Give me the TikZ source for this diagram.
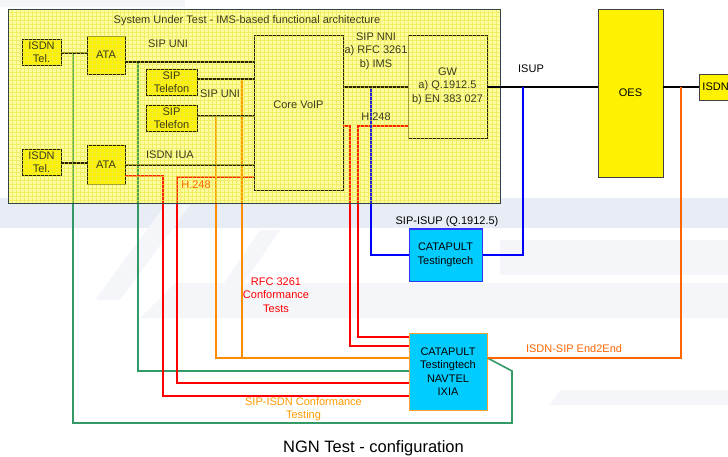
\documentclass[tikz,border=0pt]{standalone}
\usepackage{fontspec}
\setmainfont{Liberation Sans}
\definecolor{sutfill}{RGB}{255,255,190}
\definecolor{gridc}{RGB}{230,230,80}
\definecolor{inktext}{RGB}{60,60,25}
\definecolor{grn}{RGB}{51,153,102}
\definecolor{org}{RGB}{255,102,0}
\definecolor{orglight}{RGB}{255,140,0}
\definecolor{orgtext}{RGB}{255,153,0}
\definecolor{catc}{RGB}{0,204,255}
\definecolor{wmark}{RGB}{232,236,245}
\definecolor{wmark2}{RGB}{244,246,250}
\definecolor{sutedge}{RGB}{50,70,70}
\begin{document}
\begin{tikzpicture}[x=1pt,y=-1pt,
  lbl/.style={font=\fontsize{11}{13.5}\selectfont,align=center,inner sep=0pt},
  inlbl/.style={lbl,text=inktext},
  ybox/.style={draw=black,line width=0.9pt,fill=yellow,inner sep=0pt,align=center,
    font=\fontsize{11}{12}\selectfont},
  cbox/.style={fill=catc,line width=1pt,inner sep=0pt,align=center,
    font=\fontsize{11}{13.5}\selectfont},
  blk/.style={line width=1.6pt,draw=black},
  grnl/.style={line width=1.6pt,draw=grn},
  redl/.style={line width=1.6pt,draw=red},
  orgl/.style={line width=1.6pt,draw=org},
  org2/.style={line width=1.4pt,draw=orglight},
  blul/.style={line width=1.6pt,draw=blue}]
\useasboundingbox (0,0) rectangle (728,457);

% faint watermark shapes in the background
\fill[wmark2] (0,0) rectangle (185,7);
\fill[wmark] (0,198) rectangle (728,228);
\fill[wmark2] (175,283) -- (728,283) -- (728,318) -- (140,318) -- cycle;
\fill[wmark2] (95,300) -- (165,205) -- (190,205) -- (120,300) -- cycle;
\fill[wmark2] (200,318) -- (260,230) -- (280,230) -- (220,318) -- cycle;
\fill[wmark2] (500,240) -- (728,240) -- (728,275) -- (500,275) -- cycle;
\fill[wmark2] (560,390) -- (728,390) -- (728,405) -- (550,405) -- cycle;

% system under test frame
\fill[sutfill] (8,9) rectangle (500,203);

% boxes
\node[ybox,minimum width=39,minimum height=26] (isdn1) at (41.5,52) {};
\node[ybox,minimum width=39,minimum height=26] (isdn2) at (41.5,162) {};
\node[ybox,minimum width=38,minimum height=38] (ata1) at (106,55) {};
\node[ybox,minimum width=38,minimum height=39] (ata2) at (106,164.5) {};
\node[ybox,minimum width=51,minimum height=26] (sip1) at (171.5,82) {};
\node[ybox,minimum width=51,minimum height=26] (sip2) at (171.5,118) {};
\node[ybox,fill=none,minimum width=89,minimum height=155] (core) at (298.5,112.5) {};
\node[ybox,fill=none,minimum width=79,minimum height=103] (gw) at (447.5,86.5) {};
\node[ybox,draw=black!75,minimum width=65,minimum height=168] (oes) at (630.5,93) {OES};
\node[ybox,draw=black!75,anchor=west,minimum height=26,text width=52,align=left,inner xsep=3pt] (isdnr) at (699,87) {ISDN};
\node[cbox,draw=blue!80,minimum width=73,minimum height=52] (cat1) at (445.5,255) {CATAPULT\\Testingtech};
\node[cbox,draw=orglight!80,minimum width=78,minimum height=77] (cat2) at (448,371.5) {CATAPULT\\Testingtech\\NAVTEL\\IXIA};

% taps on the interface lines
\coordinate (g1) at (73,53);
\coordinate (g2) at (138,62);
\coordinate (o1) at (216,116);
\coordinate (o2) at (242,79);
\coordinate (bl) at (371,87);
\coordinate (br) at (523,87);
\coordinate (oe) at (681,87);

% test connections
\draw[grnl] (cat2.east |- 0,358) -- (512,371) -- (512,423) -- (73,423) -- (g1);
\draw[grnl] (g2) -- (138,371) -- (cat2.west |- 0,371);
\draw[redl] (ata2.east |- 0,176) -- (163,176) -- (163,396) -- (cat2.west |- 0,396);
\draw[redl] (core.west |- 0,177) -- (177,177) -- (177,383) -- (cat2.west |- 0,383);
\draw[redl] (core.east |- 0,126) -- (350,126) -- (350,346) -- (cat2.west |- 0,346);
\draw[redl] (gw.west |- 0,126) -- (358,126) -- (358,337) -- (cat2.west |- 0,337);
\draw[org2] (o1) -- (216,358) -- (cat2.west |- 0,358);
\draw[org2] (o2) -- (242,358);
\draw[orgl] (cat2.east |- 0,358) -- (681,358) -- (oe);
\draw[blul] (bl) -- (371,255) -- (cat1.west);
\draw[blul] (cat1.east) -- (523,255) -- (br);

% interfaces inside the system under test
\draw[blk] (isdn1.east |- 0,53) -- (ata1.west |- 0,53);
\draw[blk] (ata1.east |- 0,62) -- (core.west |- 0,62);
\draw[blk] (sip1.east |- 0,79) -- (core.west |- 0,79);
\draw[blk] (sip2.east |- 0,116) -- (core.west |- 0,116);
\draw[blk] (isdn2.east |- 0,163) -- (ata2.west |- 0,163);
\draw[blk] (ata2.east |- 0,165) -- (core.west |- 0,165);
\draw[blk] (core.east |- 0,87) -- (gw.west |- 0,87);

% grid texture over the frame
\begin{scope}
  \clip (8,9) rectangle (500,203);
  \draw[gridc,line width=0.7pt,opacity=0.65] (8,9) grid[step=4pt] (500,203);
  \fill[yellow,opacity=0.15] (8,9) rectangle (500,203);
\end{scope}
\draw[sutedge,line width=0.8pt] (8,9) rectangle (500,203);

% labels inside the system under test
\node[inlbl] (title) at (247,21) {System Under Test - IMS-based functional architecture};
\node[inlbl] at (isdn1) {ISDN\\Tel.};
\node[inlbl] at (isdn2) {ISDN\\Tel.};
\node[inlbl] at (ata1) {ATA};
\node[inlbl] at (ata2) {ATA};
\node[inlbl] at (sip1) {SIP\\Telefon};
\node[inlbl] at (sip2) {SIP\\Telefon};
\node[inlbl] (l1) at (168,44) {SIP UNI};
\node[inlbl] (l2) at (220,94) {SIP UNI};
\node[inlbl] (l3) at (170,155) {ISDN IUA};
\node[lbl,text=org] (l4) at (196,185) {H.248};
\node[inlbl] (l5) at (376,51) {SIP NNI\\a) RFC 3261\\b) IMS};
\node[inlbl] (l6) at (376,117) {H.248};
\node[inlbl] (corel) at (298.5,105) {Core VoIP};
\node[inlbl] (gwl) at (447.5,86) {GW\\a) Q.1912.5\\b) EN 383 027};

% links outside the frame
\draw[blk] (gw.east |- 0,87) -- (oes.west |- 0,87);
\draw[blk] (oes.east |- 0,87) -- (isdnr.west);
\draw[blul] (br) -- (523,90);
\draw[orgl] (oe) -- (681,90);

% labels outside the frame
\node[lbl] (isup) at (531,69) {ISUP};
\node[lbl] (sipisup) at (447,222) {SIP-ISUP (Q.1912.5)};
\node[lbl,text=red] (rfc) at (276,295) {RFC 3261\\Conformance\\Tests};
\node[lbl,text=orgtext] (sipisdn) at (303.5,409) {SIP-ISDN Conformance\\Testing};
\node[lbl,text=org] (e2e) at (574,349) {ISDN-SIP End2End};
\node[font=\fontsize{16.5}{20}\selectfont,inner sep=0pt] (cap) at (373.5,448) {NGN Test - configuration};
\end{tikzpicture}
\end{document}
